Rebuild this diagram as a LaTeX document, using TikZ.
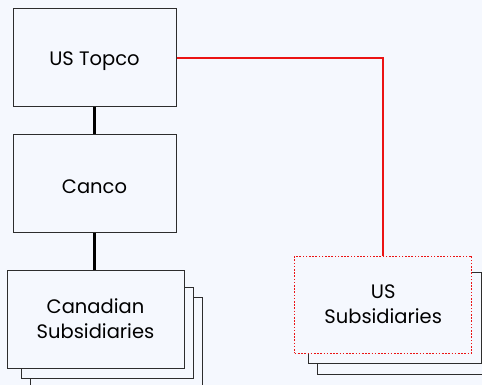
\documentclass[tikz,border=0pt]{standalone}
\usepackage{fontspec}
\setmainfont{Poppins}
\definecolor{bgcol}{RGB}{245,248,254}
\definecolor{boxline}{RGB}{45,45,45}
\definecolor{linkred}{RGB}{235,20,20}

\begin{document}
\begin{tikzpicture}[x=1pt,y=-1pt,
        entity/.style={draw=boxline, line width=1pt, fill=bgcol, inner sep=0pt,
            align=center, font=\fontsize{19.5}{25}\selectfont,
            execute at begin node={\rule{0pt}{20.5pt}}},
        stackbox/.style={draw=boxline, line width=1pt, fill=bgcol, inner sep=0pt},
        owns/.style={line width=2.2pt, black},
        uslink/.style={line width=2pt, linkred}]
        \fill [bgcol] (0,0) rectangle (482,385);
        \useasboundingbox (0,0) rectangle (482,385);
        \clip (0,0) rectangle (482,385);
        % top of the group
        \node [entity, minimum width=163pt, minimum height=98pt] (topco) at (94.5, 58) {US Topco};
        \node [entity, minimum width=163pt, minimum height=97pt] (canco) at (94.5, 183.5) {Canco};
        % canadian side, stacked
        \node [stackbox, minimum width=172pt, minimum height=98pt] (canback) at (116, 346) {};
        \node [stackbox, minimum width=172pt, minimum height=91pt] (canmid) at (107, 332.5) {};
        \node [entity, minimum width=177pt, minimum height=98pt] (cansub) at (95.5, 319) {Canadian\\Subsidiaries};
        % us side, stacked
        \node [stackbox, minimum width=173pt, minimum height=91pt] (usback) at (404.2, 328.5) {};
        \node [stackbox, minimum width=172.6pt, minimum height=91.3pt] (usmid) at (395, 318.3) {};
        \node [entity, draw=linkred, line width=0.9pt, dash pattern=on 1.6pt off 1.6pt,
            minimum width=177pt, minimum height=97pt] (ussub) at (383.2, 304.5) {US\\Subsidiaries};
        % links
        \draw [owns] (topco) -- (canco);
        \draw [owns] (canco.south) -- (canco.south |- cansub.north);
        \draw [uslink] (topco.east) -| (ussub.north);
    \end{tikzpicture}
\end{document}
